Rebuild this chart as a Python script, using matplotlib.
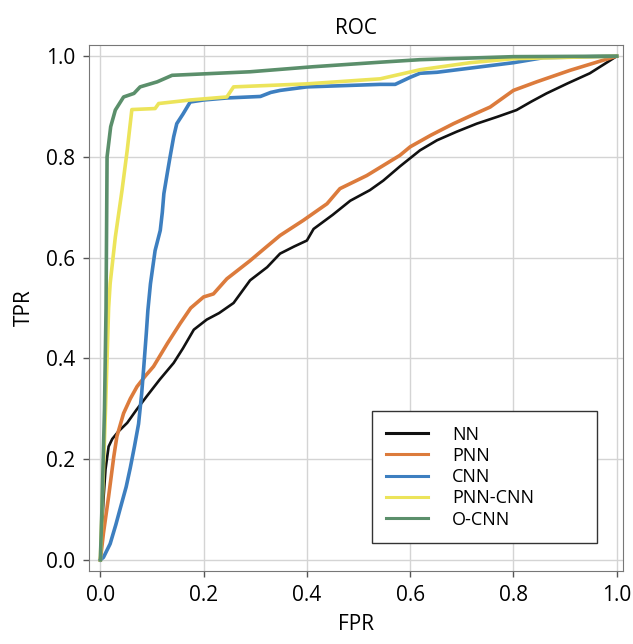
import matplotlib.pyplot as plt

plt.rcParams['font.family'] = ['Open Sans', 'DejaVu Sans']

# ROC points per model (false positive rate, true positive rate)
nn_fpr = [0, 0.003, 0.006, 0.01, 0.016, 0.023, 0.035, 0.052, 0.07, 0.09, 0.115, 0.142, 0.16, 0.181,
          0.206, 0.23, 0.258, 0.29, 0.323, 0.348, 0.375, 0.40, 0.413, 0.45, 0.484, 0.522, 0.548,
          0.58, 0.619, 0.652, 0.69, 0.729, 0.77, 0.806, 0.835, 0.864, 0.905, 0.948, 0.968, 0.985, 1.0]
nn_tpr = [0, 0.05, 0.12, 0.18, 0.225, 0.24, 0.255, 0.272, 0.298, 0.325, 0.358, 0.391, 0.42, 0.457,
          0.477, 0.49, 0.51, 0.555, 0.581, 0.608, 0.622, 0.634, 0.657, 0.685, 0.713, 0.734, 0.753,
          0.781, 0.813, 0.833, 0.85, 0.866, 0.88, 0.893, 0.91, 0.926, 0.946, 0.966, 0.979, 0.99, 1.0]

pnn_fpr = [0, 0.006, 0.016, 0.026, 0.032, 0.045, 0.058, 0.071, 0.087, 0.103, 0.13, 0.155, 0.175,
           0.2, 0.219, 0.245, 0.29, 0.32, 0.348, 0.393, 0.439, 0.464, 0.49, 0.516, 0.58, 0.6,
           0.64, 0.684, 0.72, 0.755, 0.8, 0.845, 0.91, 0.974, 1.0]
pnn_tpr = [0, 0.053, 0.126, 0.205, 0.245, 0.291, 0.32, 0.344, 0.365, 0.384, 0.43, 0.47, 0.5,
           0.522, 0.528, 0.558, 0.594, 0.62, 0.644, 0.674, 0.707, 0.737, 0.75, 0.763, 0.803, 0.82,
           0.843, 0.866, 0.883, 0.899, 0.932, 0.949, 0.972, 0.992, 1.0]

cnn_fpr = [0, 0.006, 0.019, 0.03, 0.039, 0.05, 0.058, 0.066, 0.074, 0.08, 0.084, 0.089, 0.092,
           0.097, 0.106, 0.116, 0.12, 0.123, 0.13, 0.135, 0.142, 0.148, 0.16, 0.174, 0.2, 0.245,
           0.31, 0.33, 0.348, 0.4, 0.542, 0.571, 0.6, 0.619, 0.652, 0.8, 0.858, 1.0]
cnn_tpr = [0, 0.005, 0.032, 0.07, 0.104, 0.145, 0.183, 0.225, 0.27, 0.33, 0.382, 0.45, 0.495,
           0.548, 0.614, 0.654, 0.69, 0.727, 0.77, 0.80, 0.84, 0.866, 0.885, 0.909, 0.913, 0.917,
           0.92, 0.928, 0.932, 0.939, 0.944, 0.944, 0.958, 0.966, 0.968, 0.987, 0.997, 1.0]

pnn_cnn_fpr = [0, 0.005, 0.01, 0.016, 0.019, 0.029, 0.042, 0.052, 0.061, 0.106, 0.113, 0.174,
               0.245, 0.258, 0.4, 0.542, 0.619, 0.716, 0.8, 1.0]
pnn_cnn_tpr = [0, 0.15, 0.3, 0.5, 0.549, 0.641, 0.734, 0.813, 0.894, 0.896, 0.906, 0.913,
               0.919, 0.939, 0.945, 0.955, 0.973, 0.987, 0.995, 1.0]

ocnn_fpr = [0, 0.003, 0.008, 0.011, 0.013, 0.02, 0.029, 0.045, 0.065, 0.077, 0.11, 0.139, 0.29,
            0.412, 0.542, 0.619, 0.8, 1.0]
ocnn_tpr = [0, 0.1, 0.3, 0.5, 0.8, 0.86, 0.893, 0.919, 0.926, 0.939, 0.949, 0.962, 0.969,
            0.979, 0.988, 0.993, 0.999, 1.0]

fig = plt.figure(figsize=(6.33, 6.44), dpi=100)
ax = fig.add_axes([0.1406, 0.1134, 0.8434, 0.8166])

ax.plot(nn_fpr, nn_tpr, color='#111111', lw=1.9, label='NN')
ax.plot(pnn_fpr, pnn_tpr, color='#dc7b3c', lw=2.6, label='PNN')
ax.plot(cnn_fpr, cnn_tpr, color='#3d7fc0', lw=2.6, label='CNN')
ax.plot(pnn_cnn_fpr, pnn_cnn_tpr, color='#ece45a', lw=2.6, label='PNN-CNN')
ax.plot(ocnn_fpr, ocnn_tpr, color='#5b8f6b', lw=2.6, label='O-CNN')

ax.set_xlim(-0.022, 1.012)
ax.set_ylim(-0.022, 1.022)
ax.set_xticks([0, 0.2, 0.4, 0.6, 0.8, 1.0])
ax.set_yticks([0, 0.2, 0.4, 0.6, 0.8, 1.0])
ax.grid(True, color='#d4d4d4', lw=1)
ax.set_axisbelow(True)
for s in ax.spines.values():
    s.set_color('#777777')
ax.tick_params(length=4, width=1, color='#555555', labelsize=15, pad=6)

ax.set_title('ROC', fontsize=15, pad=8)
ax.set_xlabel('FPR', fontsize=15, labelpad=6)
ax.set_ylabel('TPR', fontsize=15, labelpad=8)

leg = ax.legend(loc='upper left', bbox_to_anchor=(0.53, 0.049, 0.421, 0.255), mode='expand',
                borderaxespad=0, fontsize=13, fancybox=False, framealpha=1, edgecolor='#333333',
                handlelength=2.3, handletextpad=1.35, labelspacing=0.18, borderpad=0.8)
leg.get_frame().set_linewidth(1)
for h in leg.get_lines():
    h.set_linewidth(2.2)

fig.savefig('out.png', dpi=100)
